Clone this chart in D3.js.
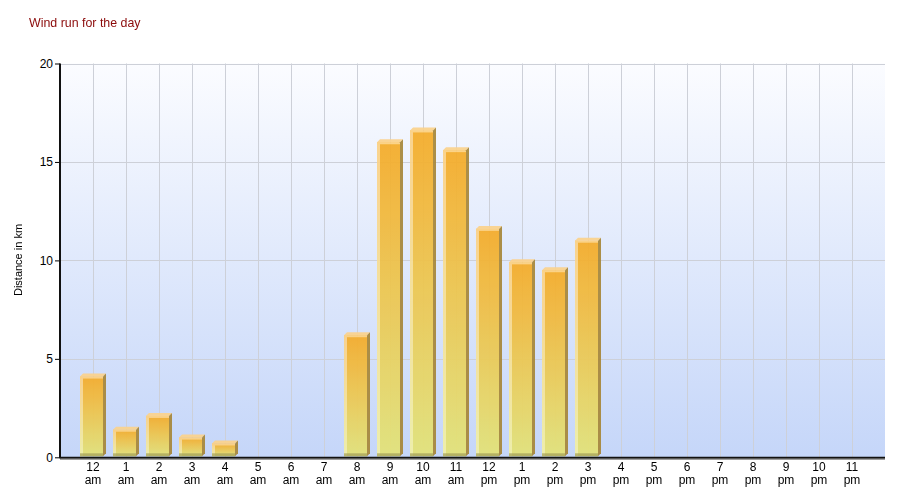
<!DOCTYPE html>
<html><head><meta charset="utf-8">
<script src="https://cdn.jsdelivr.net/npm/d3@7"></script>
<style>body{margin:0;background:#fff}svg{display:block}</style>
</head><body>
<svg id="c" width="900" height="500"></svg>
<script>
const hours = ["12","1","2","3","4","5","6","7","8","9","10","11","12","1","2","3","4","5","6","7","8","9","10","11"];
const periods = ["am","am","am","am","am","am","am","am","am","am","am","am","pm","pm","pm","pm","pm","pm","pm","pm","pm","pm","pm","pm"];
const windRun = [4.1,1.4,2.1,1.0,0.7,0,0,0,6.2,16.0,16.6,15.6,11.6,9.9,9.5,11.0,0,0,0,0,0,0,0,0];
const yTicks = [0,5,10,15,20];
const title = "Wind run for the day";
const yLabel = "Distance in km";

(function(){
const svg = d3.select("#c");
const pL = 60, pR = 885, pT = 63.5, pB = 457.3;
const cats = hours.map((h,i)=>i);
const x = d3.scaleBand().domain(cats).range([pL+16.5, pR-16.5]).paddingInner(0).paddingOuter(0);
const y = d3.scaleLinear().domain([0,20]).range([pB, pT]);
const defs = svg.append("defs");
const bg = defs.append("linearGradient").attr("id","bg").attr("x1",0).attr("y1",0).attr("x2",0).attr("y2",1);
bg.append("stop").attr("offset","0%").attr("stop-color","#fbfcff");
bg.append("stop").attr("offset","100%").attr("stop-color","#c5d6f9");
const fg = defs.append("linearGradient").attr("id","front").attr("x1",0).attr("y1",0).attr("x2",0).attr("y2",1);
fg.append("stop").attr("offset","0%").attr("stop-color","#f5ab28");
fg.append("stop").attr("offset","100%").attr("stop-color","#e3e378");
const lg = defs.append("linearGradient").attr("id","leftg").attr("x1",0).attr("y1",0).attr("x2",0).attr("y2",1);
lg.append("stop").attr("offset","0%").attr("stop-color","#fbd086");
lg.append("stop").attr("offset","100%").attr("stop-color","#f1f0a6");

svg.append("rect").attr("x",pL).attr("y",pT).attr("width",pR-pL).attr("height",pB-pT).attr("fill","url(#bg)");

svg.append("g").selectAll("line").data(yTicks.slice(1)).join("line")
  .attr("x1",pL).attr("x2",pR).attr("y1",d=>Math.round(y(d))+0.5).attr("y2",d=>Math.round(y(d))+0.5)
  .attr("stroke","#cdd0d8").attr("stroke-width",1);
svg.append("g").selectAll("line").data(cats).join("line")
  .attr("x1",d=>Math.round(x(d)+x.bandwidth()/2)+0.5).attr("x2",d=>Math.round(x(d)+x.bandwidth()/2)+0.5)
  .attr("y1",pT).attr("y2",pB)
  .attr("stroke","#cdd0d8").attr("stroke-width",1);

const bw = 23, dep = 3;
const bars = svg.append("g").attr("opacity",0.93).selectAll("g").data(windRun.map((v,i)=>({v,i})).filter(d=>d.v>0)).join("g");
bars.each(function(d){
  const g = d3.select(this);
  const cx = x(d.i)+x.bandwidth()/2;
  const x0 = cx-13, x1 = x0+bw;
  const yt = y(d.v), yb = pB-1;
  g.append("rect").attr("x",x0).attr("y",yt).attr("width",bw).attr("height",yb-yt).attr("fill","url(#front)");
  g.append("rect").attr("x",x0).attr("y",yt).attr("width",3).attr("height",yb-yt).attr("fill","url(#leftg)");
  g.append("rect").attr("x",x0).attr("y",yt).attr("width",bw).attr("height",2).attr("fill","#fcd07f");
  g.append("path").attr("d",`M${x0},${yt}L${x0+dep},${yt-dep}L${x1+dep},${yt-dep}L${x1},${yt}Z`).attr("fill","#fbd28c");
  g.append("path").attr("d",`M${x1},${yt}L${x1+dep},${yt-dep}L${x1+dep},${yb-dep}L${x1},${yb}Z`).attr("fill","#a7873a");
  g.append("rect").attr("x",x0).attr("y",yb-3).attr("width",bw).attr("height",3).attr("fill","#9f9a4c").attr("opacity",0.7);
});

const yAxis = d3.axisLeft(y).tickValues(yTicks).tickSize(5).tickFormat(d3.format("d"));
const ya = svg.append("g").attr("transform",`translate(${pL},0)`).call(yAxis);
ya.select(".domain").remove();
ya.selectAll(".tick line").attr("stroke","#000");
ya.selectAll(".tick text").attr("font-family","Liberation Sans, Arial, sans-serif").attr("font-size",12).attr("fill","#000").attr("x",-7);
svg.append("line").attr("x1",pL).attr("x2",pL).attr("y1",pT).attr("y2",pB+1).attr("stroke","#111").attr("stroke-width",2);
svg.append("line").attr("x1",pL).attr("x2",pR).attr("y1",pB+0.5).attr("y2",pB+0.5).attr("stroke","#111").attr("stroke-width",2);
svg.append("line").attr("x1",pL).attr("x2",pR).attr("y1",pB+2).attr("y2",pB+2).attr("stroke","#888").attr("stroke-width",1);

const xa = svg.append("g").attr("font-family","Liberation Sans, Arial, sans-serif").attr("font-size",12).attr("fill","#000").attr("text-anchor","middle");
xa.selectAll("text.h").data(cats).join("text").attr("class","h").attr("x",d=>x(d)+x.bandwidth()/2).attr("y",471).text(d=>hours[d]);
xa.selectAll("text.p").data(cats).join("text").attr("class","p").attr("x",d=>x(d)+x.bandwidth()/2).attr("y",484).text(d=>periods[d]);

svg.append("text").attr("x",29).attr("y",27).attr("font-family","Liberation Sans, Arial, sans-serif").attr("font-size",12.4).attr("fill","#8b0a0a").text(title);
svg.append("text").attr("transform","translate(22,260) rotate(-90)").attr("text-anchor","middle")
  .attr("font-family","Liberation Sans, Arial, sans-serif").attr("font-size",11).attr("fill","#000").text(yLabel);
})();
</script>
</body></html>
